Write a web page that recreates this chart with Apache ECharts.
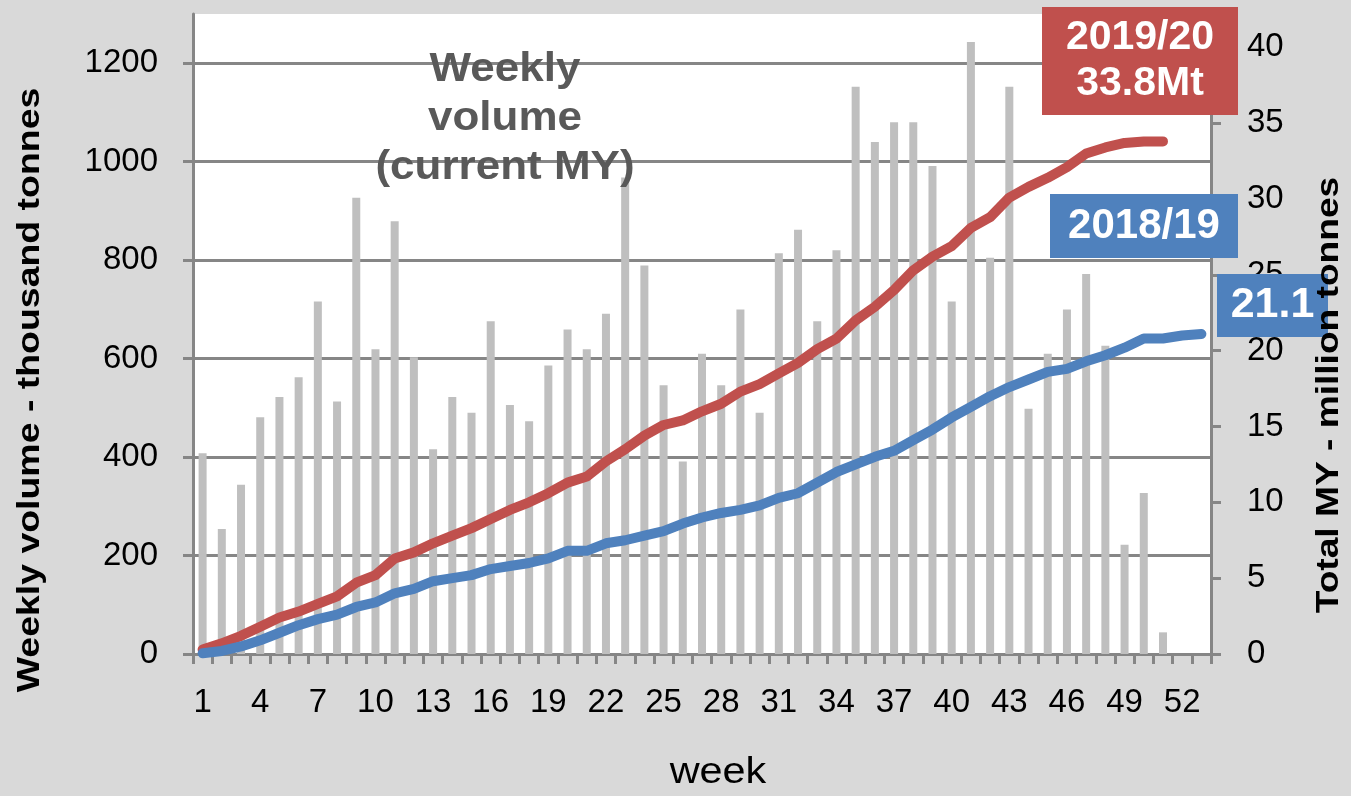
<!DOCTYPE html>
<html>
<head>
<meta charset="utf-8">
<script src="https://cdn.jsdelivr.net/npm/echarts@6/dist/echarts.min.js"></script>
<style>
  html, body { margin: 0; padding: 0; background: #d9d9d9; }
  #chart { width: 1351px; height: 796px; }
</style>
</head>
<body>
<div id="chart"></div>
<script>
// Marketing-year weeks
const weeks = ['1','2','3','4','5','6','7','8','9','10','11','12','13','14','15','16','17','18',
  '19','20','21','22','23','24','25','26','27','28','29','30','31','32','33','34','35','36',
  '37','38','39','40','41','42','43','44','45','46','47','48','49','50','51','52','53'];

// Weekly volume, current MY (thousand tonnes)
const weeklyVolume = [408, 254, 344, 481, 522, 562, 716, 513, 927, 619, 879, 603, 416, 522, 490,
  676, 506, 473, 586, 659, 619, 691, 968, 789, 546, 391, 610, 546, 700, 490, 814, 862, 676, 820,
  1152, 1040, 1080, 1080, 991, 716, 1243, 805, 1152, 498, 610, 700, 772, 626, 222, 327, 44, null, null];

// Cumulative MY total (million tonnes)
const total2019_20 = [0.3, 0.7, 1.2, 1.8, 2.4, 2.8, 3.3, 3.8, 4.7, 5.2, 6.3, 6.7, 7.3, 7.8, 8.3,
  8.9, 9.5, 10.0, 10.6, 11.3, 11.7, 12.7, 13.5, 14.4, 15.1, 15.4, 16.0, 16.5, 17.3, 17.8, 18.5,
  19.2, 20.1, 20.8, 22.0, 22.9, 24.0, 25.3, 26.2, 26.9, 28.1, 28.8, 30.1, 30.8, 31.4, 32.1, 33.0,
  33.4, 33.7, 33.8, 33.8, null, null];
const total2018_19 = [0.05, 0.2, 0.5, 0.9, 1.4, 1.9, 2.3, 2.6, 3.1, 3.4, 4.0, 4.3, 4.8, 5.0, 5.2,
  5.6, 5.8, 6.0, 6.3, 6.8, 6.8, 7.3, 7.5, 7.8, 8.1, 8.6, 9.0, 9.3, 9.5, 9.8, 10.3, 10.6, 11.3,
  12.0, 12.5, 13.0, 13.4, 14.1, 14.8, 15.6, 16.3, 17.0, 17.6, 18.1, 18.6, 18.8, 19.3, 19.7, 20.2,
  20.8, 20.8, 21.0, 21.1];

const seasons = ['2019/20', '2018/19'];
const leftTicks = [0, 200, 400, 600, 800, 1000, 1200];
const rightTicks = [0, 5, 10, 15, 20, 25, 30, 35, 40];

const FONT = '"Liberation Sans", Arial, sans-serif';
const GREY = '#868686';
const RED = '#c0504d';
const BLUE = '#4f81bd';

const lastOf = arr => arr.filter(v => v != null).slice(-1)[0];

const chart = echarts.init(document.getElementById('chart'), null, { renderer: 'canvas' });

const tickLabel = { color: '#000', fontSize: 33, fontFamily: FONT, formatter: v => String(v) };

function box(x, y, w, h, color, text, fontSize, lineHeight) {
  return {
    type: 'group', z: 10,
    children: [
      { type: 'rect', z: 10, shape: { x: x, y: y, width: w, height: h }, style: { fill: color } },
      {
        type: 'text', z: 11, x: x + w / 2, y: y + h / 2,
        style: {
          text: text, fill: '#fff', font: 'bold ' + fontSize + 'px ' + FONT,
          align: 'center', verticalAlign: 'middle', textAlign: 'center', textVerticalAlign: 'middle',
          lineHeight: lineHeight
        }
      }
    ]
  };
}

function titleText(x, y, text, fontSize, weight, scaleX, rotation, z) {
  return {
    type: 'text', z: z, x: x, y: y, rotation: rotation, scaleX: scaleX,
    style: {
      text: text, fill: '#000', font: weight + ' ' + fontSize + 'px ' + FONT,
      align: 'center', verticalAlign: 'middle', textAlign: 'center', textVerticalAlign: 'middle'
    }
  };
}

chart.setOption({
  backgroundColor: '#d9d9d9',
  animation: false,
  grid: {
    left: 193, right: 140, top: 14, bottom: 142,
    show: true, backgroundColor: '#ffffff', borderWidth: 0,
    outerBoundsMode: 'none'
  },
  xAxis: {
    type: 'category', data: weeks, boundaryGap: true,
    axisLine: { lineStyle: { color: GREY, width: 3 } },
    axisTick: { show: true, interval: 0, length: 10, lineStyle: { color: GREY, width: 3 } },
    axisLabel: Object.assign({}, tickLabel, { interval: 2, margin: 32, formatter: null }),
    splitLine: { show: false }
  },
  yAxis: [
    {
      type: 'value', position: 'left', min: 0, max: 1300, interval: 200,
      axisLine: { show: true, lineStyle: { color: GREY, width: 3 } },
      axisTick: { show: true, length: 10, customValues: leftTicks, lineStyle: { color: GREY, width: 3 } },
      axisLabel: Object.assign({ margin: 35, customValues: leftTicks }, tickLabel),
      splitLine: { show: true, lineStyle: { color: GREY, width: 3 } }
    },
    {
      type: 'value', position: 'right', min: 0, max: 42.2,
      axisLine: { show: true, lineStyle: { color: GREY, width: 3 } },
      axisTick: { show: true, length: 10, customValues: rightTicks, lineStyle: { color: GREY, width: 3 } },
      axisLabel: Object.assign({ margin: 36, customValues: rightTicks }, tickLabel),
      splitLine: { show: false }
    }
  ],
  series: [
    {
      name: 'Weekly volume', type: 'bar', data: weeklyVolume, yAxisIndex: 0,
      barWidth: 8, itemStyle: { color: '#bfbfbf' }, z: 2
    },
    {
      name: seasons[0], type: 'line', data: total2019_20, yAxisIndex: 1,
      showSymbol: false, symbol: 'none', z: 4,
      lineStyle: { color: RED, width: 10, cap: 'round', join: 'round' }
    },
    {
      name: seasons[1], type: 'line', data: total2018_19, yAxisIndex: 1,
      showSymbol: false, symbol: 'none', z: 4,
      lineStyle: { color: BLUE, width: 10, cap: 'round', join: 'round' }
    }
  ],
  graphic: [
    {
      type: 'text', z: 10, x: 505, y: 119, scaleX: 1.1,
      style: {
        text: 'Weekly\nvolume\n(current MY)', fill: '#595959', font: 'bold 40px ' + FONT,
        align: 'center', verticalAlign: 'middle', textAlign: 'center', textVerticalAlign: 'middle',
        lineHeight: 49
      }
    },
    titleText(30, 390, 'Weekly volume - thousand tonnes', 32, 'bold', 1.17, Math.PI / 2, 10),
    titleText(718, 773, 'week', 36, 'normal', 1.15, 0, 10),
    box(1042, 7, 196, 108, RED, seasons[0] + '\n' + lastOf(total2019_20).toFixed(1) + 'Mt', 41, 46),
    box(1050, 194, 188, 64, BLUE, seasons[1], 42, 46),
    box(1217, 274, 111, 63, BLUE, lastOf(total2018_19).toFixed(1), 43, 46),
    titleText(1329, 395, 'Total MY - million tonnes', 32, 'bold', 1.16, Math.PI / 2, 20)
  ]
});
</script>
</body>
</html>
